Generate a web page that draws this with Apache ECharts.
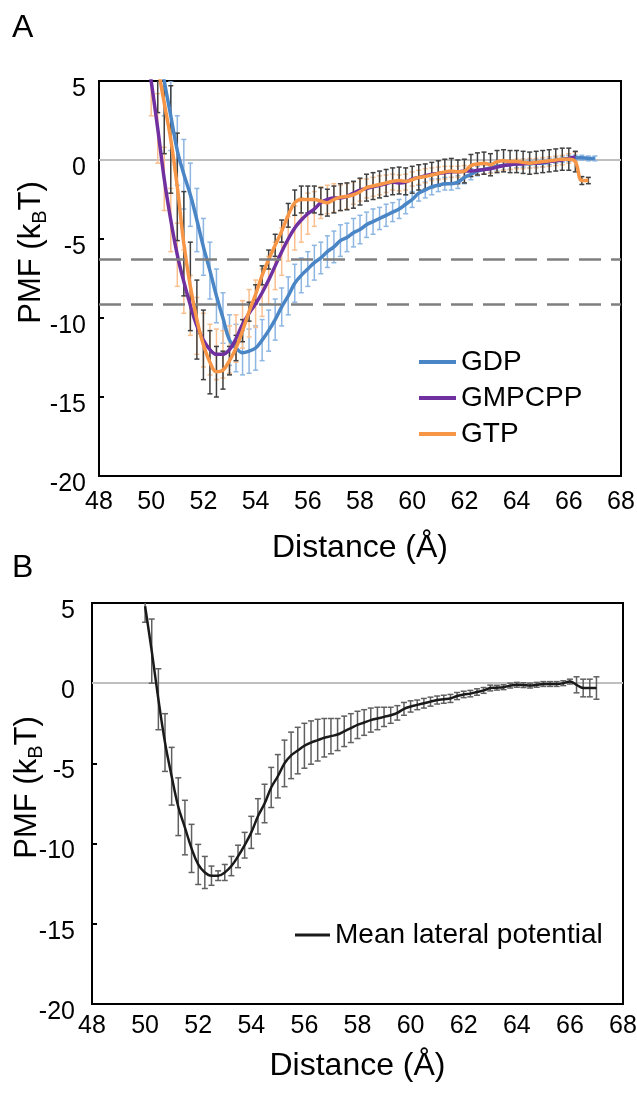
<!DOCTYPE html>
<html>
<head>
<meta charset="utf-8">
<title>PMF vs distance</title>
<script src="https://cdn.jsdelivr.net/npm/echarts@6/dist/echarts.min.js"></script>
<style>
  html, body { margin: 0; padding: 0; background: #fff; }
  #chart { width: 637px; height: 1093px; }
</style>
</head>
<body>
<div id="chart"></div>
<script>
// distance (Å), shared by every series; null = no point there
const distance = [
  49.75, 50, 50.25, 50.5, 50.75, 51, 51.25, 51.5, 51.75, 52,
  52.25, 52.5, 52.75, 53, 53.25, 53.5, 53.75, 54, 54.25, 54.5,
  54.75, 55, 55.25, 55.5, 55.75, 56, 56.25, 56.5, 56.75, 57,
  57.25, 57.5, 57.75, 58, 58.25, 58.5, 58.75, 59, 59.25, 59.5,
  59.75, 60, 60.25, 60.5, 60.75, 61, 61.25, 61.5, 61.75, 62,
  62.25, 62.5, 62.75, 63, 63.25, 63.5, 63.75, 64, 64.25, 64.5,
  64.75, 65, 65.25, 65.5, 65.75, 66, 66.25, 66.5, 66.75, 67
]

const gdp = [
  null, null, 7.5, 5.0, 2.8, 0.6, -0.9, -2.2, -3.8, -5.5,
  -7.0, -8.6, -10.0, -11.4, -11.9, -12.2, -12.1, -11.9, -11.4, -10.8,
  -10.1, -9.3, -8.6, -7.8, -7.3, -6.9, -6.5, -6.2, -5.8, -5.5,
  -5.1, -4.9, -4.6, -4.4, -4.1, -3.9, -3.7, -3.5, -3.3, -3.1,
  -2.8, -2.5, -2.1, -1.9, -1.7, -1.6, -1.5, -1.5, -1.4, -1.1,
  -0.9, -0.7, -0.6, -0.5, -0.4, -0.35, -0.3, -0.25, -0.2, -0.25,
  -0.2, -0.2, -0.1, 0.0, 0.05, 0.1, 0.15, 0.15, 0.1, 0.1
]
const gdpErr = [
  null, null, 2.2, 2.2, 2.2, 2.2, 2.2, 2.0, 2.0, 1.8,
  1.8, 1.7, 1.6, 1.6, 1.5, 1.4, 1.4, 1.4, 1.3, 1.3,
  1.3, 1.2, 1.2, 1.2, 1.1, 1.1, 1.1, 1.0, 1.0, 1.0,
  1.0, 0.9, 0.9, 0.9, 0.8, 0.8, 0.7, 0.7, 0.6, 0.6,
  0.6, 0.5, 0.5, 0.5, 0.5, 0.4, 0.4, 0.4, 0.4, 0.4,
  0.35, 0.3, 0.3, 0.3, 0.3, 0.3, 0.3, 0.25, 0.25, 0.25,
  0.25, 0.25, 0.2, 0.2, 0.2, 0.2, 0.15, 0.15, 0.15, 0.15
]

const gmpcpp = [
  8.0, 5.0, 2.0, -1.2, -3.8, -6.0, -7.7, -9.2, -10.5, -11.4,
  -12.0, -12.3, -12.3, -12.0, -11.3, -10.4, -9.7, -9.1, -8.4, -7.6,
  -6.7, -5.8, -5.0, -4.3, -3.8, -3.4, -3.1, -2.7, -2.5, -2.4,
  -2.4, -2.3, -2.1, -1.9, -1.8, -1.7, -1.6, -1.5, -1.4, -1.45,
  -1.4, -1.2, -1.1, -1.0, -0.9, -0.85, -0.8, -0.75, -0.75, -0.7,
  -0.7, -0.65, -0.6, -0.55, -0.45, -0.35, -0.3, -0.25, -0.25, -0.2,
  -0.2, -0.15, -0.1, -0.05, 0.0, 0.1, 0.2, null, null, null
]
const gmpcppErr = [
  2.2, 2.2, 2.2, 2.0, 2.0, 2.0, 2.0, 1.9, 1.8, 1.7,
  1.6, 1.6, 1.5, 1.5, 1.5, 1.5, 1.5, 1.5, 1.5, 1.5,
  1.5, 1.5, 1.4, 1.4, 1.4, 1.3, 1.1, 1.0, 0.9, 0.9,
  0.8, 0.8, 0.7, 0.7, 0.6, 0.6, 0.6, 0.55, 0.5, 0.5,
  0.5, 0.45, 0.45, 0.45, 0.4, 0.4, 0.4, 0.35, 0.35, 0.35,
  0.3, 0.3, 0.3, 0.3, 0.3, 0.3, 0.3, 0.3, 0.3, 0.3,
  0.3, 0.3, 0.3, 0.3, 0.3, 0.3, 0.3, null, null, null
]

const gtp = [
  null, 9.0, 6.0, 3.6, 1.3, -1.7, -5.3, -8.0, -10.1, -11.7,
  -12.8, -13.4, -13.3, -12.7, -11.9, -10.8, -9.6, -8.5, -7.3, -6.3,
  -5.4, -4.5, -3.5, -2.7, -2.5, -2.5, -2.5, -2.6, -2.7, -2.5,
  -2.35, -2.3, -2.2, -2.0, -1.75, -1.65, -1.55, -1.45, -1.35, -1.3,
  -1.35, -1.25, -1.1, -1.05, -0.95, -0.85, -0.75, -0.7, -0.75, -0.7,
  -0.35, -0.25, -0.2, -0.3, -0.1, -0.05, -0.1, -0.1, -0.15, -0.2,
  -0.15, -0.1, -0.05, 0.0, 0.05, 0.05, -0.1, -1.3, -1.3, null
]
const gtpErr = [
  null, 3.0, 3.0, 3.2, 3.4, 3.4, 3.3, 2.8, 2.5, 2.2,
  2.0, 1.6, 1.2, 0.9, 0.8, 0.7, 0.6, 0.6, 0.6, 0.6,
  0.7, 0.7, 0.75, 0.8, 0.85, 0.85, 0.85, 0.85, 0.85, 0.85,
  0.85, 0.85, 0.85, 0.85, 0.85, 0.85, 0.85, 0.85, 0.85, 0.85,
  0.85, 0.85, 0.8, 0.8, 0.8, 0.8, 0.8, 0.8, 0.75, 0.75,
  0.7, 0.7, 0.7, 0.7, 0.7, 0.7, 0.7, 0.7, 0.7, 0.7,
  0.7, 0.7, 0.7, 0.7, 0.7, 0.7, 0.65, 0.25, 0.2, null
]

const meanLateral = [
  null, 4.8, 2.0, -1.0, -3.7, -5.8, -7.7, -9.0, -10.3, -11.3,
  -11.8, -12.0, -12.0, -11.8, -11.4, -10.8, -10.1, -9.3, -8.3, -7.5,
  -6.5, -5.8, -5.0, -4.5, -4.2, -3.9, -3.7, -3.55, -3.4, -3.3,
  -3.2, -3.0, -2.8, -2.6, -2.45, -2.3, -2.2, -2.1, -2.0, -1.85,
  -1.6, -1.45, -1.35, -1.25, -1.15, -1.05, -1.0, -0.95, -0.8, -0.7,
  -0.65, -0.55, -0.45, -0.3, -0.28, -0.25, -0.15, -0.1, -0.12, -0.15,
  -0.1, -0.05, -0.05, -0.05, 0.0, 0.1, -0.1, -0.3, -0.3, -0.3
]
const meanLateralErr = [
  null, 1.0, 2.0, 1.9, 1.8, 1.8, 1.8, 1.7, 1.5, 1.25,
  1.0, 0.6, 0.3, 0.5, 0.6, 0.7, 0.8, 1.0, 1.1, 1.2,
  1.25, 1.35, 1.45, 1.45, 1.45, 1.4, 1.35, 1.3, 1.2, 1.1,
  1.0, 0.95, 0.9, 0.85, 0.8, 0.75, 0.7, 0.6, 0.5, 0.45,
  0.4, 0.35, 0.3, 0.3, 0.28, 0.25, 0.25, 0.25, 0.22, 0.2,
  0.2, 0.2, 0.18, 0.18, 0.15, 0.15, 0.15, 0.15, 0.15, 0.15,
  0.15, 0.15, 0.15, 0.15, 0.15, 0.15, 0.5, 0.55, 0.55, 0.7
]

// horizontal reference lines in panel A (kBT)
const thresholds = [-6.3, -9.1]
const xTicks = { min: 48, max: 68, step: 2 }
const yTicks = { min: -20, max: 5, step: 5 }

const FONT = '"Liberation Sans", Arial, sans-serif'

function points (vals) {
  return distance.map((d, i) => [d, vals[i]]).filter(p => p[1] != null)
}
function bars (vals, err) {
  return distance
    .map((d, i) => vals[i] == null ? null : [d, vals[i] - err[i], vals[i] + err[i]])
    .filter(Boolean)
}
function errorBars (color, cap) {
  return function (params, api) {
    const x = api.value(0)
    const lo = api.coord([x, api.value(1)])
    const hi = api.coord([x, api.value(2)])
    const style = { stroke: color, lineWidth: 1.5 }
    return {
      type: 'group',
      children: [
        { type: 'line', shape: { x1: lo[0], y1: lo[1], x2: hi[0], y2: hi[1] }, style },
        { type: 'line', shape: { x1: lo[0] - cap, y1: lo[1], x2: lo[0] + cap, y2: lo[1] }, style },
        { type: 'line', shape: { x1: hi[0] - cap, y1: hi[1], x2: hi[0] + cap, y2: hi[1] }, style }
      ]
    }
  }
}

function xAxisFor (gridIndex, nameGap, margin) {
  return {
    gridIndex,
    type: 'value',
    min: xTicks.min,
    max: xTicks.max,
    interval: xTicks.step,
    axisLine: { show: false },
    axisTick: { show: false },
    splitLine: { show: false },
    axisLabel: {
      color: '#000', fontSize: 25, fontFamily: FONT, margin,
      alignMinLabel: 'center', alignMaxLabel: 'center'
    },
    name: 'Distance (Å)',
    nameLocation: 'middle',
    nameGap,
    nameMoveOverlap: false,
    nameTextStyle: { color: '#000', fontSize: 32, fontFamily: FONT, lineHeight: 34 }
  }
}
function yAxisFor (gridIndex, nameGap, margin, shiftUp) {
  return {
    gridIndex,
    type: 'value',
    min: yTicks.min,
    max: yTicks.max,
    interval: yTicks.step,
    axisLine: { show: false },
    axisTick: { show: true, inside: true, length: 5, lineStyle: { color: '#000', width: 2 } },
    splitLine: { show: false },
    axisLabel: {
      color: '#000', fontSize: 25, fontFamily: FONT, margin,
      verticalAlign: 'top', lineHeight: 16,
      verticalAlignMinLabel: 'top', verticalAlignMaxLabel: 'top'
    },
    name: '{a|PMF (k}{b|B}{a|T)}',
    nameLocation: 'middle',
    nameRotate: 90,
    nameGap,
    nameMoveOverlap: false,
    nameTextStyle: {
      padding: [0, 0, 0, shiftUp * 2],
      rich: {
        a: { color: '#000', fontSize: 31, fontFamily: FONT, lineHeight: 38 },
        b: { color: '#000', fontSize: 20, fontFamily: FONT, lineHeight: 19, verticalAlign: 'bottom' }
      }
    }
  }
}

const zeroLine = {
  silent: true,
  symbol: 'none',
  z: 1,
  label: { show: false },
  lineStyle: { color: '#bfbfbf', width: 2, type: 'solid' },
  data: [{ yAxis: 0 }]
}

const chart = echarts.init(document.getElementById('chart'))
chart.setOption({
  animation: false,
  backgroundColor: '#fff',
  textStyle: { fontFamily: FONT },
  graphic: [
    { type: 'text', left: 12, top: 12, style: { text: 'A', fontSize: 32, fontFamily: FONT, fill: '#000' } },
    { type: 'text', left: 12, top: 552, style: { text: 'B', fontSize: 32, fontFamily: FONT, fill: '#000' } }
  ],
  grid: [
    {
      left: 99, top: 81, width: 522, height: 395, outerBoundsMode: 'none', containLabel: false,
      show: true, borderColor: '#000', borderWidth: 2, backgroundColor: 'transparent'
    },
    {
      left: 92, top: 603, width: 531, height: 401, outerBoundsMode: 'none', containLabel: false,
      show: true, borderColor: '#000', borderWidth: 2, backgroundColor: 'transparent'
    }
  ],
  xAxis: [xAxisFor(0, 55, 14), xAxisFor(1, 45, 10)],
  yAxis: [yAxisFor(0, 49, 13, 26), yAxisFor(1, 46, 17, 16)],
  legend: [
    {
      left: 419, top: 348, orient: 'vertical', padding: 0,
      icon: 'rect', itemWidth: 37, itemHeight: 4, itemGap: 8,
      textStyle: { color: '#000', fontSize: 28, fontFamily: FONT, lineHeight: 28 },
      data: ['GDP', 'GMPCPP', 'GTP']
    },
    {
      left: 295, top: 921, orient: 'vertical', padding: 0,
      icon: 'rect', itemWidth: 35, itemHeight: 3,
      textStyle: { color: '#000', fontSize: 28, fontFamily: FONT, lineHeight: 28 },
      data: ['Mean lateral potential']
    }
  ],
  series: [
    {
      name: 'GDP err', type: 'custom', xAxisIndex: 0, yAxisIndex: 0, z: 2, clip: true, silent: true,
      renderItem: errorBars('#8db6e3', 2.5), data: bars(gdp, gdpErr),
      markLine: zeroLine
    },
    {
      name: 'GMPCPP err', type: 'custom', xAxisIndex: 0, yAxisIndex: 0, z: 2, clip: true, silent: true,
      renderItem: errorBars('#fabf8f', 2.5), data: bars(gmpcpp, gmpcppErr)
    },
    {
      name: 'GTP err', type: 'custom', xAxisIndex: 0, yAxisIndex: 0, z: 2, clip: true, silent: true,
      renderItem: errorBars('#404040', 2.5), data: bars(gtp, gtpErr),
      markLine: {
        silent: true,
        symbol: 'none',
        z: 6,
        label: { show: false },
        lineStyle: { color: '#7f7f7f', width: 2.5, type: [22, 10] },
        data: thresholds.map(v => ({ yAxis: v }))
      }
    },
    {
      name: 'GDP', type: 'line', xAxisIndex: 0, yAxisIndex: 0, z: 3,
      data: points(gdp), symbol: 'none', smooth: 0.4,
      lineStyle: { color: '#4a85c5', width: 3.5 }, itemStyle: { color: '#4a85c5' }
    },
    {
      name: 'GMPCPP', type: 'line', xAxisIndex: 0, yAxisIndex: 0, z: 3,
      data: points(gmpcpp), symbol: 'none', smooth: 0.4,
      lineStyle: { color: '#7030a0', width: 3.5 }, itemStyle: { color: '#7030a0' }
    },
    {
      name: 'GTP', type: 'line', xAxisIndex: 0, yAxisIndex: 0, z: 4,
      data: points(gtp), symbol: 'none', smooth: 0.4,
      lineStyle: { color: '#f79646', width: 3.5 }, itemStyle: { color: '#f79646' }
    },
    {
      name: 'Mean err', type: 'custom', xAxisIndex: 1, yAxisIndex: 1, z: 2, clip: true, silent: true,
      renderItem: errorBars('#606060', 3), data: bars(meanLateral, meanLateralErr),
      markLine: zeroLine
    },
    {
      name: 'Mean lateral potential', type: 'line', xAxisIndex: 1, yAxisIndex: 1, z: 3,
      data: points(meanLateral), symbol: 'none', smooth: 0.4,
      lineStyle: { color: '#1a1a1a', width: 2.5 }, itemStyle: { color: '#1a1a1a' }
    }
  ]
})
window.addEventListener('resize', () => chart.resize())
</script>
</body>
</html>
